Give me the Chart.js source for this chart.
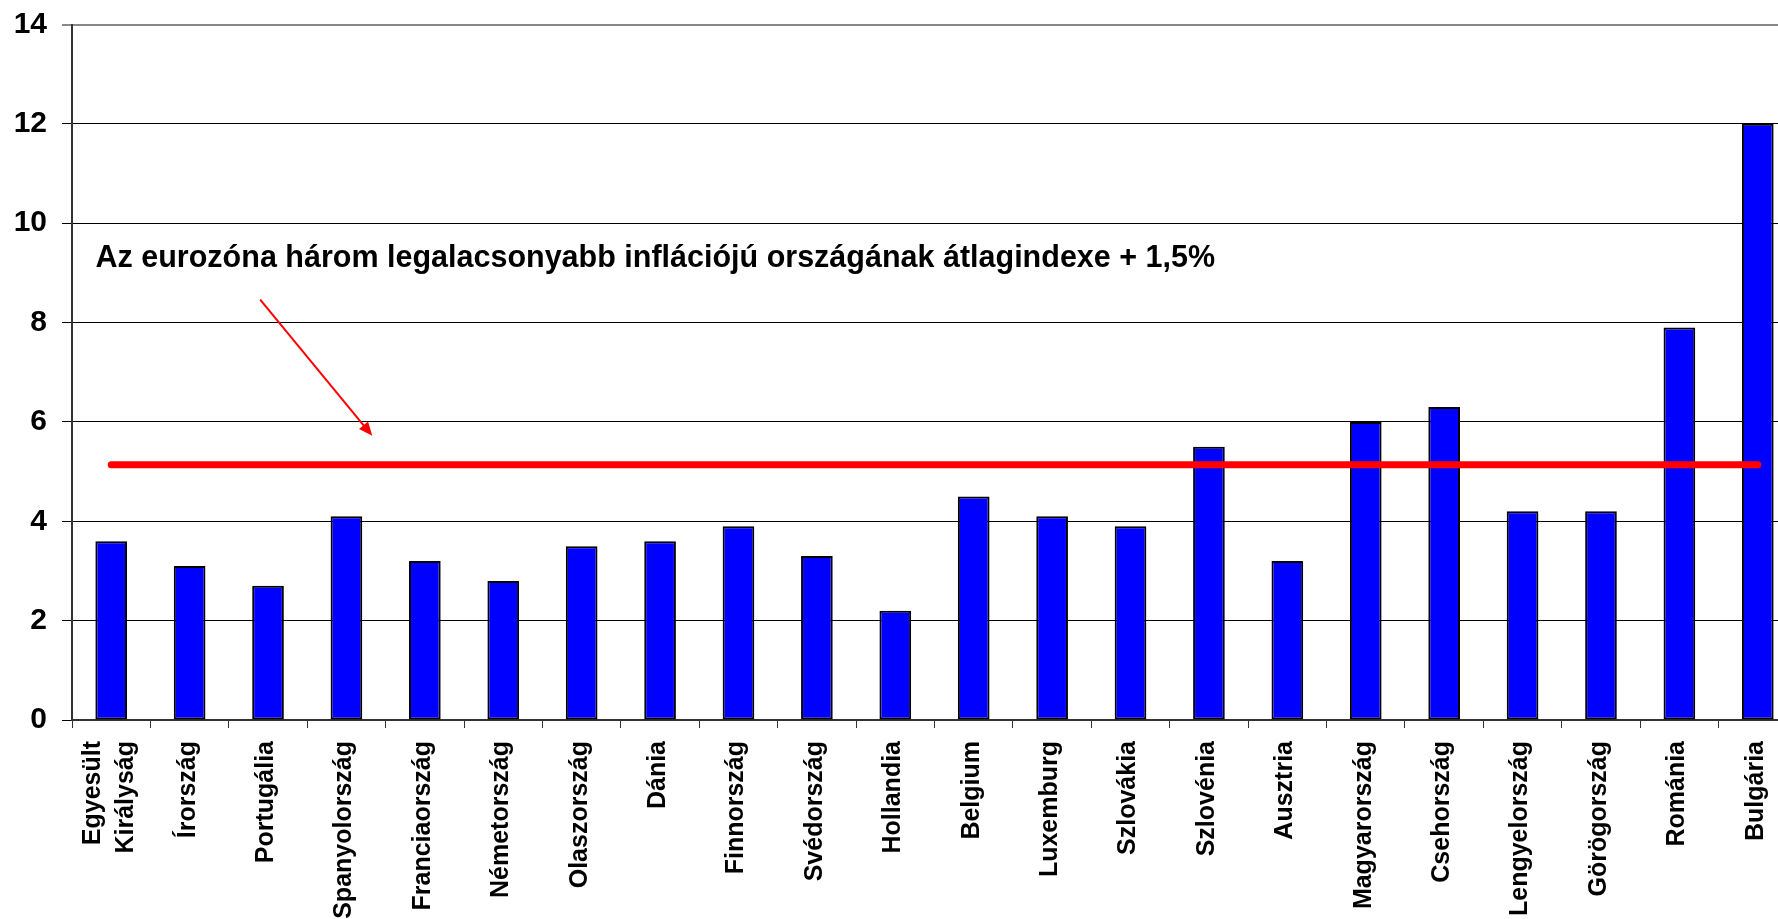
<!DOCTYPE html>
<html>
<head>
<meta charset="utf-8">
<script src="https://cdn.jsdelivr.net/npm/chart.js@4/dist/chart.umd.min.js"></script>
<style>
  html, body { margin: 0; padding: 0; background: #fff; overflow: hidden; }
  #wrap { width: 1797px; height: 919px; }
</style>
</head>
<body>
<div id="wrap"><canvas id="inflChart" width="1797" height="919"></canvas></div>
<script>
// Országok (kategóriák)
const orszagok = [
    ['Egyesült', 'Királyság'], 'Írország', 'Portugália', 'Spanyolország', 'Franciaország',
    'Németország', 'Olaszország', 'Dánia', 'Finnország', 'Svédország', 'Hollandia',
    'Belgium', 'Luxemburg', 'Szlovákia', 'Szlovénia', 'Ausztria', 'Magyarország',
    'Csehország', 'Lengyelország', 'Görögország', 'Románia', 'Bulgária'
];
// Infláció (%)
const inflacio = [3.6, 3.1, 2.7, 4.1, 3.2, 2.8, 3.5, 3.6, 3.9, 3.3, 2.2,
                  4.5, 4.1, 3.9, 5.5, 3.2, 6.0, 6.3, 4.2, 4.2, 7.9, 12.0];
// Referenciaérték: eurozóna három legalacsonyabb inflációjú országának átlaga + 1,5%
const referencia = 5.14;
const yTicks = [0, 2, 4, 6, 8, 10, 12, 14];
const megjegyzes = 'Az eurozóna három legalacsonyabb inflációjú országának átlagindexe + 1,5%';

const fontFamily = '"Liberation Sans", Arial, sans-serif';

// X tengely feliratai (elforgatva, többsoros középre igazítva)
const xLabelPlugin = {
    id: 'xLabels',
    afterDraw(chart) {
        const x = chart.scales.x;
        const ctx = chart.ctx;
        const lineGap = 33;
        ctx.save();
        ctx.fillStyle = '#000';
        ctx.font = 'bold 25px ' + fontFamily;
        ctx.textAlign = 'right';
        ctx.textBaseline = 'middle';
        orszagok.forEach((lbl, i) => {
            const lines = Array.isArray(lbl) ? lbl : [lbl];
            ctx.save();
            ctx.translate(x.getPixelForTick(i) - 2, x.top + 21);
            ctx.rotate(-Math.PI / 2);
            lines.forEach((ln, j) => {
                ctx.fillText(ln, 0, (j - (lines.length - 1) / 2) * lineGap);
            });
            ctx.restore();
        });
        ctx.restore();
    }
};

// Felirat és nyíl rajzolása a skálák alapján
const annotationPlugin = {
    id: 'annotation',
    afterDraw(chart) {
        const x = chart.scales.x, y = chart.scales.y;
        const ctx = chart.ctx;
        ctx.save();
        ctx.fillStyle = '#000';
        ctx.font = 'bold 30.5px ' + fontFamily;
        ctx.textBaseline = 'alphabetic';
        ctx.textAlign = 'left';
        ctx.fillText(megjegyzes, x.getPixelForValue(-0.2), y.getPixelForValue(9.12));

        // nyíl
        const x1 = x.getPixelForValue(1.9), y1 = y.getPixelForValue(8.46);
        const x2 = x.getPixelForValue(3.33), y2 = y.getPixelForValue(5.72);
        const ang = Math.atan2(y2 - y1, x2 - x1);
        const head = 15;
        ctx.strokeStyle = '#ff0000';
        ctx.fillStyle = '#ff0000';
        ctx.lineWidth = 2;
        ctx.beginPath();
        ctx.moveTo(x1, y1);
        ctx.lineTo(x2 - Math.cos(ang) * head * 0.8, y2 - Math.sin(ang) * head * 0.8);
        ctx.stroke();
        ctx.beginPath();
        ctx.moveTo(x2, y2);
        ctx.lineTo(x2 - head * Math.cos(ang - 0.4), y2 - head * Math.sin(ang - 0.4));
        ctx.lineTo(x2 - head * Math.cos(ang + 0.4), y2 - head * Math.sin(ang + 0.4));
        ctx.closePath();
        ctx.fill();
        ctx.restore();
    }
};

const ctx = document.getElementById('inflChart').getContext('2d');
const inflChart = new Chart(ctx, {
    type: 'bar',
    data: {
        labels: orszagok,
        datasets: [{
            type: 'line',
            label: 'Referenciaérték',
            data: orszagok.map(() => referencia),
            borderColor: '#ff0000',
            borderWidth: 7,
            borderCapStyle: 'round',
            pointRadius: 0,
            fill: false,
            order: 1
        }, {
            label: 'Infláció',
            data: inflacio,
            backgroundColor: '#0000ff',
            borderColor: '#000000',
            borderWidth: 2,
            borderSkipped: false,
            categoryPercentage: 1,
            barPercentage: 0.404,
            order: 2
        }]
    },
    options: {
        responsive: false,
        animation: false,
        layout: { padding: { top: 24.5, left: 0, right: 0, bottom: 0 } },
        plugins: {
            legend: { display: false },
            tooltip: { enabled: false }
        },
        scales: {
            x: {
                offset: true,
                grid: {
                    offset: true,
                    drawOnChartArea: false,
                    drawTicks: true,
                    tickLength: 8,
                    color: '#333'
                },
                border: { color: '#333', width: 2 },
                ticks: { display: false, autoSkip: false },
                afterFit: scale => {
                    scale.height = 199;
                    scale.paddingLeft = 0;
                    scale.paddingRight = 0;
                }
            },
            y: {
                min: 0,
                max: 14,
                afterBuildTicks: scale => { scale.ticks = yTicks.map(v => ({ value: v })); },
                grid: {
                    color: ctx => ctx.tick && ctx.tick.value === 14 ? '#888' : '#000',
                    lineWidth: ctx => ctx.tick && ctx.tick.value === 14 ? 2 : 1,
                    tickLength: 10,
                    drawTicks: true
                },
                border: { color: '#333', width: 2 },
                ticks: {
                    padding: 15,
                    color: '#000',
                    font: { family: fontFamily, size: 30, weight: 'bold' }
                },
                afterFit: scale => {
                    scale.width = 72;
                    scale.paddingTop = 0;
                    scale.paddingBottom = 0;
                }
            }
        }
    },
    plugins: [xLabelPlugin, annotationPlugin]
});
</script>
</body>
</html>
